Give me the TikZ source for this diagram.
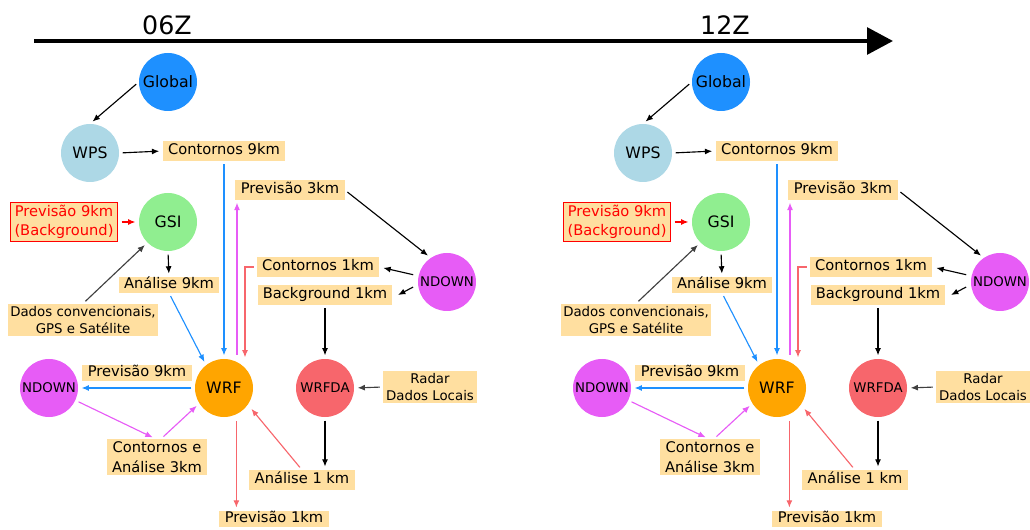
\documentclass[tikz,border=0pt]{standalone}
\usepackage{fontspec}
\setmainfont{DejaVu Sans}
\usetikzlibrary{arrows.meta}
\definecolor{boxfill}{HTML}{FFDFA0}
\definecolor{cglobal}{HTML}{1E90FF}
\definecolor{cwps}{HTML}{ADD8E6}
\definecolor{cgsi}{HTML}{90EE90}
\definecolor{cndown}{HTML}{E75CF6}
\definecolor{cwrf}{HTML}{FFA500}
\definecolor{cwrfda}{HTML}{F7666C}
\begin{document}
\begin{tikzpicture}[x=0.75pt, y=-0.75pt,
    circ/.style={circle, minimum size=43.5pt, inner sep=0pt, font=\fontsize{11.8}{14}\selectfont},
    smallcirc/.style={circ, font=\fontsize{10}{12}\selectfont},
    box/.style={fill=boxfill, inner xsep=4pt, inner ysep=2pt, align=center, font=\fontsize{11}{14.5}\selectfont},
    lbl/.style={box, text height=8.2pt, text depth=2.5pt},
    smallbox/.style={box, inner xsep=2pt, font=\fontsize{10}{12.5}\selectfont},
    arr/.style={-{Latex[length=5.5pt,width=4.5pt]}, line width=0.85pt},
    gap/.style={shorten <=2.5pt, shorten >=2.5pt}]
    \useasboundingbox (0,0) rectangle (1030,530);
    % time line
    \coordinate (tstart) at (34,41);
    \coordinate (tend) at (893,41);
    \draw [line width=3pt, -{Triangle[length=19.5pt,width=20pt]}] (tstart) -- (tend);
    \node [font=\fontsize{19}{22}\selectfont] (t06) at (167,25) {06Z};
    \node [font=\fontsize{19}{22}\selectfont] (t12) at (725,25) {12Z};

    \foreach \dx/\s in {0/a, 553/b} {
    \begin{scope}[shift={(\dx,0)}]
        \node [circ, fill=cglobal] (glob\s) at (168,82) {Global};
        \node [circ, fill=cwps] (wps\s) at (90,153) {WPS};
        \node [circ, fill=cgsi] (gsi\s) at (168,222) {GSI};
        \node [circ, fill=cwrf] (wrf\s) at (224,388) {WRF};
        \node [smallcirc, fill=cndown] (nd\s) at (447,282) {NDOWN};
        \node [smallcirc, fill=cndown] (ndl\s) at (49,388) {NDOWN};
        \node [smallcirc, fill=cwrfda] (wrfda\s) at (325,388) {WRFDA};

        \node [lbl] (cont9\s) at (224,151) {Contornos 9km};
        \node [box, draw=red, line width=1.1pt, text=red, inner xsep=3pt] (prevbg\s) at (64,222) {Previsão 9km\\(Background)};
        \node [lbl, inner ysep=0.5pt] (anal9\s) at (169,285) {Análise 9km};
        \node [smallbox] (dados\s) at (83,320) {Dados convencionais,\\GPS e Satélite};
        \node [lbl] (prev3\s) at (290,190) {Previsão 3km};
        \node [lbl] (cont1\s) at (318,267) {Contornos 1km};
        \node [lbl] (back1\s) at (325,295) {Background 1km};
        \node [lbl, inner ysep=1pt] (prev9\s) at (137,373) {Previsão 9km};
        \node [box] (cont3\s) at (157,457) {Contornos e\\Análise 3km};
        \node [lbl] (anal1\s) at (302,480) {Análise 1 km};
        \node [lbl, inner ysep=1pt] (prev1\s) at (274,519) {Previsão 1km};
        \node [smallbox] (radar\s) at (430,387) {Radar\\Dados Locais};

        % black
        \draw [arr, gap] (glob\s.west) -- (wps\s.north);
        \draw [arr, gap] (wps\s.east) -- (cont9\s.west);
        \draw [arr, gap] (gsi\s.south) -- (anal9\s.north);
        \draw [arr, gap, black!75] (dados\s.north) -- (gsi\s.225);
        \draw [arr, gap] (prev3\s.east) -- (nd\s.124);
        \draw [arr, shorten <=4pt, shorten >=3pt] (nd\s.168) -- (cont1\s.east);
        \draw [arr, shorten <=4pt] (nd\s.185) -- ([xshift=4pt]back1\s.east);
        \draw [arr, gap] (back1\s.south) -- (wrfda\s.north);
        \draw [arr, gap] (wrfda\s.south) -- (wrfda\s.south |- anal1\s.north);
        \draw [arr, gap, black!75] (radar\s.west) -- (wrfda\s.east);
        % blue
        \draw [arr, gap, cglobal] (cont9\s.south) -- (wrf\s.north);
        \draw [arr, gap, cglobal] (anal9\s.south) -- (wrf\s.128);
        \draw [arr, gap, cglobal] (wrf\s.west) -- (ndl\s.east);
        % magenta
        \draw [arr, shorten >=2pt, cndown] ([xshift=9.75pt,yshift=3pt]wrf\s.north) -- ([xshift=9.75pt]wrf\s.north |- prev3\s.south);
        \draw [arr, gap, cndown] (ndl\s.-25) -- ([xshift=-1pt]cont3\s.north);
        \draw [arr, gap, cndown] ([xshift=3pt]cont3\s.north) -- (wrf\s.212);
        % red
        \draw [arr, shorten <=2pt, cwrfda] (cont1\s.west) -| ([xshift=15.75pt,yshift=1pt]wrf\s.north);
        \draw [arr, shorten <=2.5pt, shorten >=4pt, cwrfda] (anal1\s.north) -- (wrf\s.-35);
        \draw [arr, shorten >=2pt, cwrfda] ([yshift=-5pt]wrf\s.-65) -- (wrf\s.-65 |- prev1\s.north);
        \draw [arr, gap, red] (prevbg\s.east) -- (gsi\s.west);
    \end{scope}
    }
\end{tikzpicture}
\end{document}
